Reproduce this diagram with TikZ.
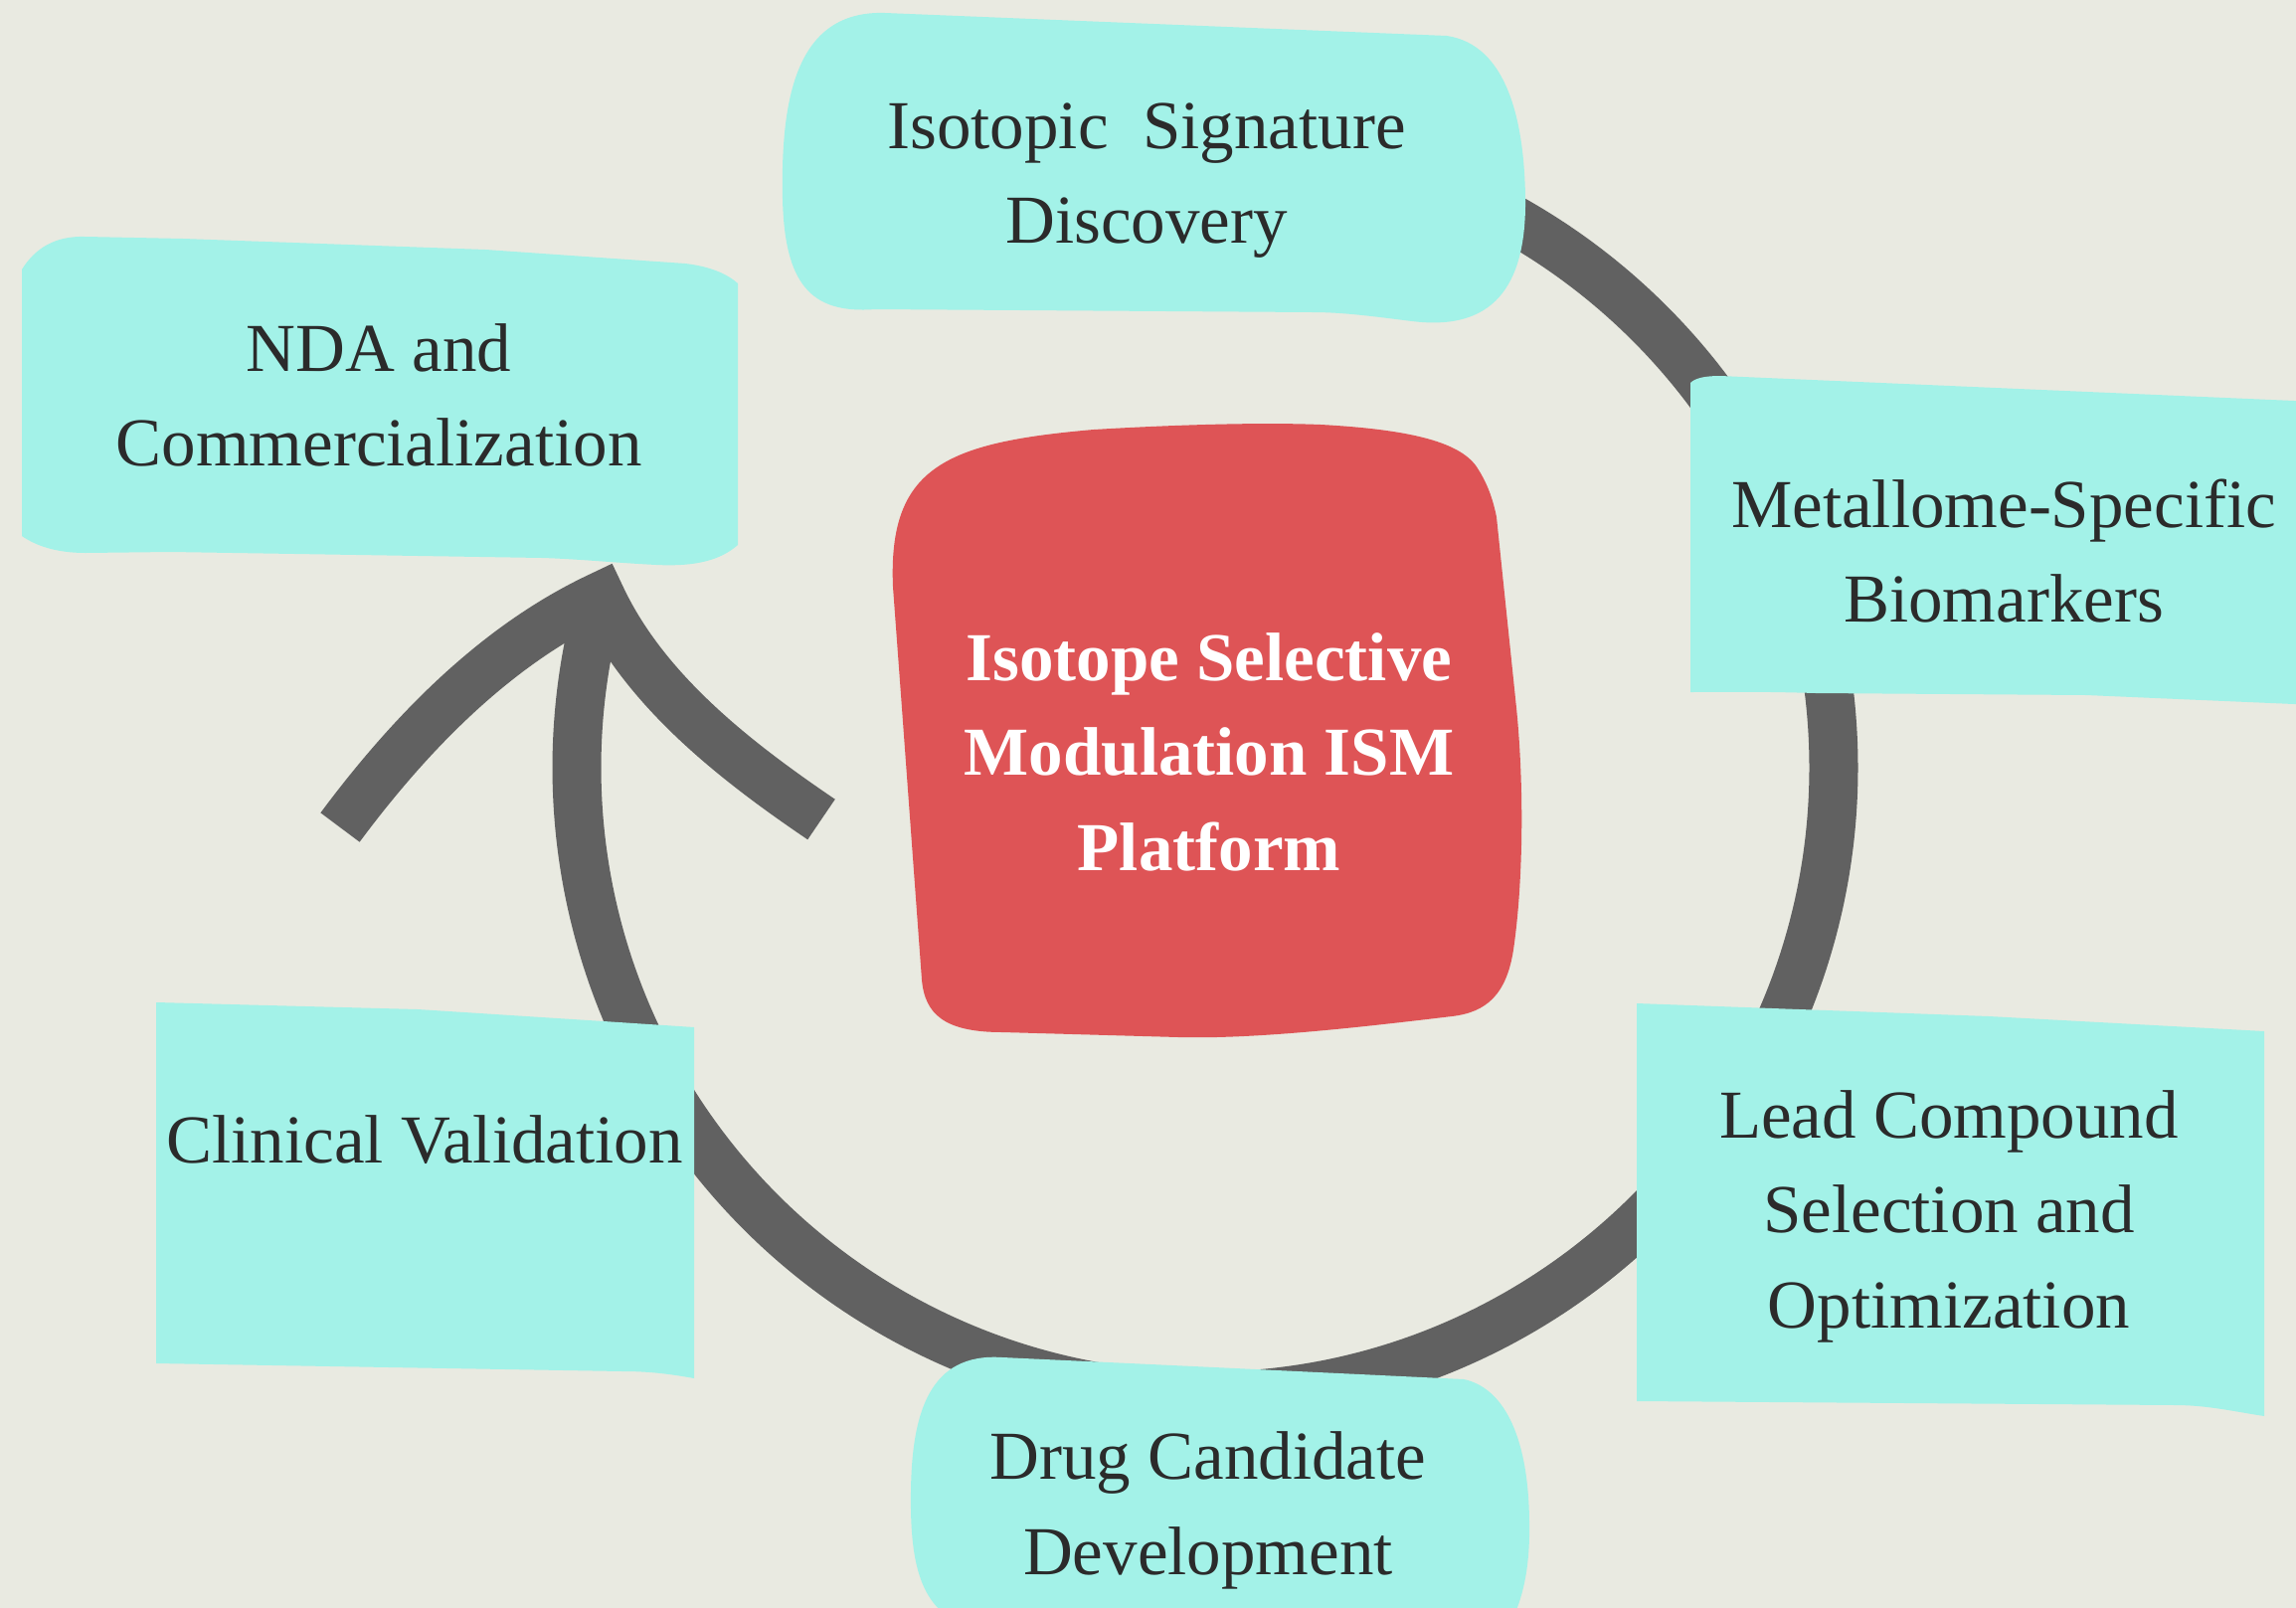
\documentclass[tikz,border=0pt]{standalone}
\usepackage{fontspec}
\setmainfont{Liberation Serif}
\definecolor{bgc}{HTML}{E9EAE1}
\definecolor{boxcyan}{HTML}{A3F2E8}
\definecolor{boxred}{HTML}{DE5456}
\definecolor{conngray}{HTML}{616161}
\definecolor{txtdark}{HTML}{2B2B2B}
\tikzset{
  box/.style={fill=boxcyan},
  hub/.style={fill=boxred},
  conn/.style={draw=conngray, line width=24.5pt},
  lbl/.style={font=\fontsize{34.5}{47.75}\selectfont, text=txtdark, align=center, anchor=base, inner sep=0pt},
  hublbl/.style={font=\fontsize{34.5}{47.75}\selectfont\bfseries, text=white, align=center, anchor=base, inner sep=0pt}
}
\begin{document}
\begin{tikzpicture}[x=0.5pt,y=-0.5pt]
\useasboundingbox (0,0) rectangle (2309,1617);
\clip (0,0) rectangle (2309,1617);
\fill[bgc] (0,0) rectangle (2309,1617);
% cycle connector (clockwise ring ending in an open arrowhead at NDA)
\coordinate (ring) at (1212,772);
\coordinate (tip) at (604,599.4);
\coordinate (barbL) at (342,832);
\coordinate (barbR) at (826,824);
\draw[conn] (ring) ++(-90:632) arc[start angle=-90, end angle=195.85, radius=632];
\draw[conn, line join=miter, miter limit=10] (barbL) .. controls (412,738) and (498,649) .. (tip) .. controls (648,694) and (739,765) .. (barbR);
% boxes
\fill[box] (890,13) -- (1455,36) .. controls (1515,45) and (1533,120) .. (1534,200) .. controls (1535,290) and (1500,333) .. (1420,323) .. controls (1380,318) and (1350,314) .. (1320,314) -- (880,311) .. controls (815,316) and (789,285) .. (787,200) .. controls (785,100) and (800,10) .. (890,13) -- cycle;
\fill[box] (1730,378) -- (2330,404) -- (2330,709) -- (2098,699) -- (1826,697) .. controls (1760,695) and (1720,696) .. (1700,696) -- (1700,385) .. controls (1705,380) and (1715,378) .. (1730,378) -- cycle;
\fill[box] (1646,1009) -- (2000,1022) -- (2277,1037) -- (2277,1424) .. controls (2250,1420) and (2220,1413) .. (2188,1413) -- (1646,1409) -- cycle;
\fill[box] (1008,1365) -- (1200,1374) -- (1472,1387) .. controls (1510,1395) and (1537,1440) .. (1538,1530) .. controls (1539,1580) and (1530,1610) .. (1520,1630) -- (960,1630) .. controls (925,1610) and (915,1570) .. (916,1500) .. controls (917,1420) and (935,1360) .. (1008,1365) -- cycle;
\fill[box] (157,1008) -- (420,1015) -- (607,1027) -- (698,1033) -- (698,1386) .. controls (670,1381) and (650,1379) .. (626,1379) -- (157,1371) -- cycle;
\fill[box] (86,238) -- (184,240) -- (488,251) -- (689,265) .. controls (715,268) and (732,276) .. (742,285) -- (742,548) .. controls (725,563) and (700,570) .. (660,568) .. controls (620,566) and (580,562) .. (545,561) -- (172,555) -- (86,556) .. controls (55,556) and (35,548) .. (22,539) -- (22,271) .. controls (35,250) and (55,237) .. (86,238) -- cycle;
\fill[hub] (1100,432) .. controls (1200,426) and (1280,425) .. (1328,427) .. controls (1420,432) and (1470,445) .. (1486,471) .. controls (1497,488) and (1502,505) .. (1505,520) -- (1525,712) .. controls (1532,780) and (1533,880) .. (1522,955) .. controls (1515,1000) and (1495,1018) .. (1460,1022) .. controls (1360,1034) and (1260,1045) .. (1185,1043) -- (1008,1038) .. controls (950,1038) and (930,1020) .. (927,985) -- (907,712) -- (898,590) .. controls (893,470) and (950,445) .. (1100,432) -- cycle;
% labels
\node[lbl] (iso) at (1153,244.5) {Isotopic\ \ Signature\\Discovery};
\node[lbl] (met) at (2015,625.5) {Metallome-Specific\\Biomarkers};
\node[lbl] (lead) at (1960,1335) {Lead Compound\\Selection and\\Optimization};
\node[lbl] (drug) at (1215,1583) {Drug Candidate\\Development};
\node[lbl] (clin) at (427,1169) {Clinical Validation};
\node[lbl] (nda) at (381,468.5) {NDA and\\Commercialization};
\node[hublbl] (hub) at (1216,875) {Isotope Selective\\Modulation ISM\\Platform};
\end{tikzpicture}
\end{document}
